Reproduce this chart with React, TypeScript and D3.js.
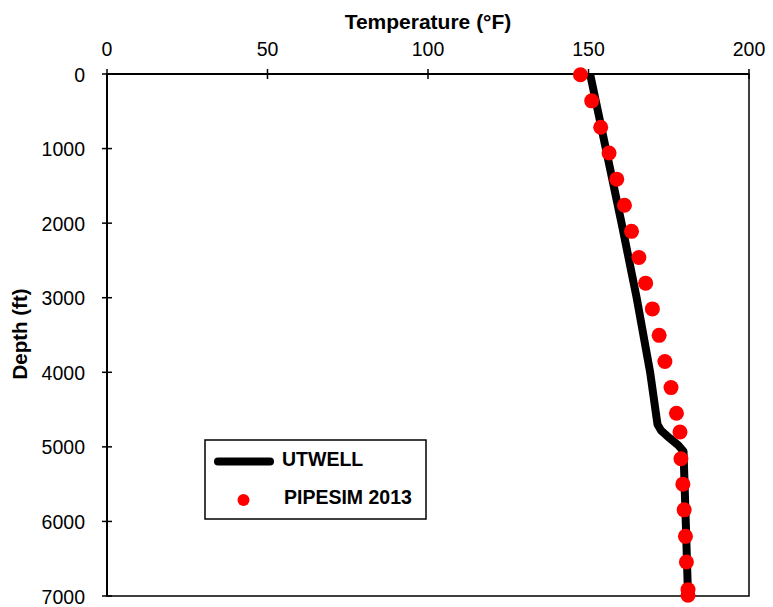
import React from "react";
import * as d3 from "d3";

const xTicks = [0, 50, 100, 150, 200];
const yTicks = [0, 1000, 2000, 3000, 4000, 5000, 6000, 7000];

const utwellDepth = [0, 1000, 2000, 3000, 4000, 4700, 4780, 4880, 4980, 5060, 6000, 7000];
const utwellTemp = [150.5, 155.4, 160.3, 165.0, 169.2, 171.5, 172.6, 175.2, 178.0, 179.6, 180.3, 181.0];

const pipesimDepth = [10, 360, 715, 1060, 1410, 1760, 2110, 2460, 2805, 3150, 3505, 3855, 4205, 4550, 4800, 5160, 5500, 5845, 6200, 6545, 6915, 6990];
const pipesimTemp = [147.5, 151.0, 153.8, 156.4, 158.8, 161.2, 163.4, 165.7, 167.8, 169.9, 172.0, 173.8, 175.7, 177.4, 178.5, 178.8, 179.4, 179.8, 180.2, 180.5, 181.0, 181.0];

const legendLabels = ["UTWELL", "PIPESIM 2013"];

export default function App() {
  const W = 773, H = 607;
  const L = 107, R = 749, T = 74, B = 596;
  const x = d3.scaleLinear().domain([0, 200]).range([L, R]);
  const y = d3.scaleLinear().domain([0, 7000]).range([T, B]);
  const font = "'Liberation Sans', Arial, sans-serif";

  const line = d3.line<number>()
    .x((_, i) => x(utwellTemp[i]))
    .y((d) => y(d));

  return (
    <svg width={W} height={H} style={{ position: "absolute", left: 0, top: 0, background: "#fff" }} fontFamily={font}>
      <rect x={0} y={0} width={W} height={H} fill="#fff" />
      {/* plot frame */}
      <rect x={L} y={T} width={R - L} height={B - T} fill="none" stroke="#000" strokeWidth={1.5} />
      <line x1={L} x2={R} y1={T} y2={T} stroke="#000" strokeWidth={2} />
      <line x1={L} x2={L} y1={T} y2={B} stroke="#000" strokeWidth={2} />
      {/* x ticks */}
      {xTicks.map((t) => (
        <g key={"x" + t}>
          <line x1={x(t)} x2={x(t)} y1={T - 5} y2={T + 5} stroke="#000" strokeWidth={1.5} />
          <text x={x(t)} y={T - 18} textAnchor="middle" fontSize={19.5} fill="#000">{t}</text>
        </g>
      ))}
      {/* y ticks */}
      {yTicks.map((t) => (
        <g key={"y" + t}>
          <line x1={L - 5} x2={L + 5} y1={y(t)} y2={y(t)} stroke="#000" strokeWidth={1.5} />
          <text x={L - 22} y={y(t) + 7.5} textAnchor="end" fontSize={19.5} fill="#000">{t}</text>
        </g>
      ))}
      <text x={x(100)} y={29} textAnchor="middle" fontSize={21} fontWeight="bold" fill="#000">Temperature (°F)</text>
      <text transform={`translate(27, 334) rotate(-90)`} textAnchor="middle" fontSize={20.5} fontWeight="bold" fill="#000">Depth (ft)</text>
      {/* UTWELL line */}
      <path d={line(utwellDepth) || ""} fill="none" stroke="#000" strokeWidth={8} strokeLinejoin="round" strokeLinecap="butt" />
      {/* PIPESIM points */}
      {pipesimDepth.map((d, i) => (
        <circle key={"p" + i} cx={x(pipesimTemp[i])} cy={y(d)} r={7.5} fill="#ff0000" />
      ))}
      {/* legend */}
      <rect x={205} y={440} width={221} height={79} fill="#fff" stroke="#000" strokeWidth={1.5} />
      <line x1={218} x2={270} y1={461.5} y2={461.5} stroke="#000" strokeWidth={8} strokeLinecap="round" />
      <text x={282} y={466} fontSize={19.5} fontWeight="bold" fill="#000">{legendLabels[0]}</text>
      <circle cx={243.5} cy={500} r={6} fill="#ff0000" />
      <text x={284} y={504} fontSize={19.5} fontWeight="bold" fill="#000">{legendLabels[1]}</text>
    </svg>
  );
}
